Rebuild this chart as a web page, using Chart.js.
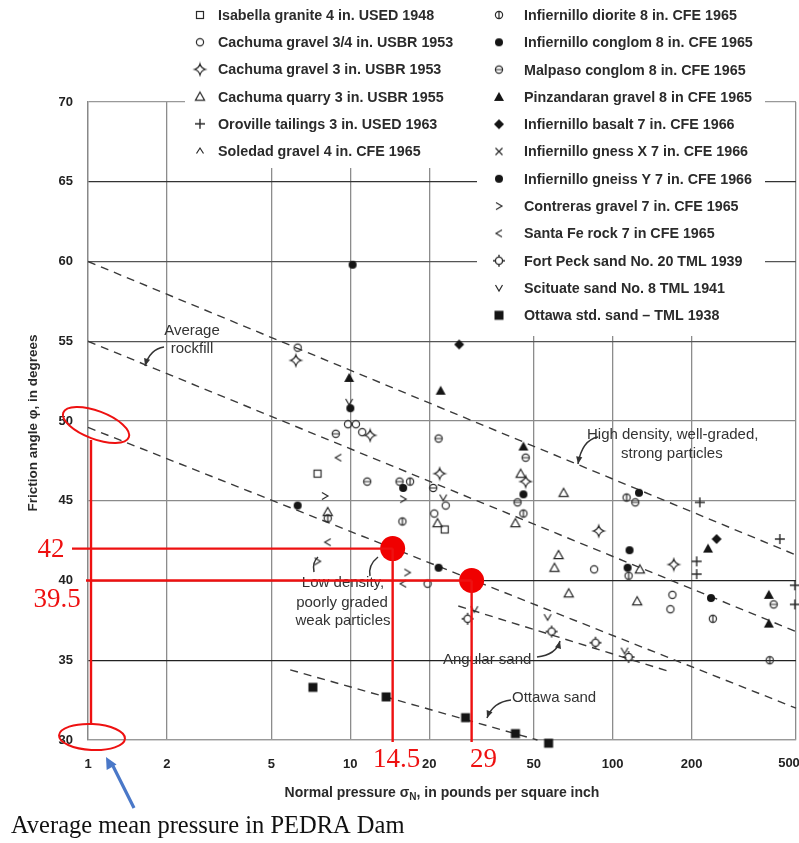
<!DOCTYPE html>
<html><head><meta charset="utf-8">
<script src="https://cdn.jsdelivr.net/npm/chart.js@4.4.1/dist/chart.umd.min.js"></script>
<style>html,body{margin:0;padding:0;background:#fff}#wrap{width:799px;height:843px;position:relative}</style>
</head><body><div id="wrap"><canvas id="c" width="799" height="843"></canvas></div>
<script>
// ---------- axis ticks ----------
const xTicks = [1, 2, 5, 10, 20, 50, 100, 200, 500];
const yTicks = [30, 35, 40, 45, 50, 55, 60, 65, 70];

// ---------- series names (legend) ----------
const seriesNames = [
  "Isabella granite 4 in. USED 1948",
  "Cachuma gravel 3/4 in. USBR 1953",
  "Cachuma gravel 3 in. USBR 1953",
  "Cachuma quarry 3 in. USBR 1955",
  "Oroville tailings 3 in. USED 1963",
  "Soledad gravel 4 in. CFE 1965",
  "Infiernillo diorite 8 in. CFE 1965",
  "Infiernillo conglom 8 in. CFE 1965",
  "Malpaso conglom 8 in. CFE 1965",
  "Pinzandaran gravel 8 in CFE 1965",
  "Infiernillo basalt 7 in. CFE 1966",
  "Infiernillo gness X 7 in. CFE 1966",
  "Infiernillo gneiss Y 7 in. CFE 1966",
  "Contreras gravel 7 in. CFE 1965",
  "Santa Fe rock 7 in CFE 1965",
  "Fort Peck sand No. 20 TML 1939",
  "Scituate sand No. 8 TML 1941",
  "Ottawa std. sand \u2013 TML 1938"
];

// ---------- series values [normal pressure psi, friction angle deg] ----------
const isabella   = [[7.5,46.7],[22.9,43.2]];
const cachuma34  = [[6.3,54.6],[9.8,49.8],[10.5,49.8],[11.1,49.3],[23.1,44.7],[20.9,44.2],[19.7,39.8],[85,40.7],[169,39.1],[166,38.2]];
const cachuma3   = [[6.2,53.8],[11.9,49.1],[21.9,46.7],[46.6,46.2],[88.5,43.1],[171,41.0]];
const cachumaQ   = [[8.2,44.3],[21.5,43.6],[44.6,46.7],[65,45.5],[42.6,43.6],[62.2,41.6],[60,40.8],[127,40.7],[68,39.2],[124,38.7]];
const oroville   = [[215,44.9],[434,42.6],[209,41.2],[209,40.4],[495,39.7],[495,38.5]];
const soledad    = [];
const diorite    = [[8.2,43.9],[15.8,43.7],[16.9,46.2],[45.7,44.2],[113,45.2],[115,40.3],[241,37.6],[397,35.0]];
const conglom    = [[10.2,59.8],[10,50.8],[6.3,44.7],[15.9,45.8],[21.7,40.8],[45.7,45.4]];
const malpaso    = [[8.8,49.2],[11.6,46.2],[15.4,46.2],[21.7,48.9],[20.7,45.8],[46.6,47.7],[43.4,44.9],[122,44.9],[411,38.5]];
const pinzandaran= [[9.9,52.7],[22.1,51.9],[45.7,48.4],[231,42.0],[394,39.1],[394,37.3]];
const basalt     = [[26,54.8],[249,42.6]];
const gnessX     = [];
const gneissY    = [[126,45.5],[116,41.9],[114,40.8],[237,38.9]];
const contreras  = [[8.0,45.3],[15.9,45.1],[7.5,41.2],[16.5,40.5]];
const santaFe    = [[9.0,47.7],[8.2,42.4],[15.9,39.8]];
const fortPeck   = [[28,37.6],[58.5,36.8],[86,36.1],[115,35.2]];
const scituate   = [[9.9,51.2],[22.6,45.2],[29.7,38.2],[56.5,37.7],[111,35.6]];
const ottawa     = [[7.2,33.3],[13.7,32.7],[27.5,31.4],[42.6,30.4],[57,29.8]];

// ---------- trend lines (end points) ----------
const lineHigh    = [[1,60],[500,41.6]];
const lineAverage = [[1,55],[500,36.8]];
const lineLow     = [[1,49.6],[500,32.0]];
const lineAngular = [[25.8,38.4],[164,34.3]];
const lineOttawa  = [[5.9,34.4],[51.7,30.0]];

// ---------- PEDRA Dam points ----------
const pedraX = [14.5, 29];
const pedraY = [42, 40];

const allSeries = [isabella,cachuma34,cachuma3,cachumaQ,oroville,soledad,diorite,conglom,malpaso,pinzandaran,basalt,gnessX,gneissY,contreras,santaFe,fortPeck,scituate,ottawa];
const markerKeys = ['sq','circ','star','tri','plus','caret','diorite','fcirc','malpaso','ftri','fdiam','x','fcirc','gt','lt','sun','v','fsq'];

function mk(fn){const c=document.createElement('canvas');c.width=16;c.height=16;const g=c.getContext('2d');g.translate(8,8);g.strokeStyle='#2a2a2a';g.fillStyle='#151515';g.lineWidth=1.2;fn(g);return c;}
const M = {
  sq: mk(g=>{g.strokeRect(-3.5,-3.5,7,7);}),
  circ: mk(g=>{g.beginPath();g.arc(0,0,3.6,0,7);g.stroke();}),
  star: mk(g=>{g.beginPath();g.moveTo(0,-5.5);g.quadraticCurveTo(1.2,-1.2,5.5,0);g.quadraticCurveTo(1.2,1.2,0,5.5);g.quadraticCurveTo(-1.2,1.2,-5.5,0);g.quadraticCurveTo(-1.2,-1.2,0,-5.5);g.closePath();g.stroke();}),
  tri: mk(g=>{g.beginPath();g.moveTo(0,-4.5);g.lineTo(4.6,3.6);g.lineTo(-4.6,3.6);g.closePath();g.stroke();}),
  plus: mk(g=>{g.lineWidth=1.4;g.beginPath();g.moveTo(-5,0);g.lineTo(5,0);g.moveTo(0,-5);g.lineTo(0,5);g.stroke();}),
  caret: mk(g=>{g.beginPath();g.moveTo(-3.5,2.5);g.lineTo(0,-3);g.lineTo(3.5,2.5);g.stroke();}),
  diorite: mk(g=>{g.beginPath();g.arc(0,0,3.6,0,7);g.moveTo(0,-3.6);g.lineTo(0,3.6);g.stroke();}),
  fcirc: mk(g=>{g.beginPath();g.arc(0,0,4,0,7);g.fill();}),
  malpaso: mk(g=>{g.beginPath();g.arc(0,0,3.6,0,7);g.moveTo(-3.6,0);g.lineTo(3.6,0);g.stroke();}),
  ftri: mk(g=>{g.beginPath();g.moveTo(0,-5);g.lineTo(5,4);g.lineTo(-5,4);g.closePath();g.fill();}),
  fdiam: mk(g=>{g.beginPath();g.moveTo(0,-5);g.lineTo(5,0);g.lineTo(0,5);g.lineTo(-5,0);g.closePath();g.fill();}),
  x: mk(g=>{g.beginPath();g.moveTo(-3.5,-3.5);g.lineTo(3.5,3.5);g.moveTo(3.5,-3.5);g.lineTo(-3.5,3.5);g.stroke();}),
  gt: mk(g=>{g.beginPath();g.moveTo(-3,-3.5);g.lineTo(3,0);g.lineTo(-3,3.5);g.stroke();}),
  lt: mk(g=>{g.beginPath();g.moveTo(3,-3.5);g.lineTo(-3,0);g.lineTo(3,3.5);g.stroke();}),
  v: mk(g=>{g.beginPath();g.moveTo(-3.5,-3);g.lineTo(0,3);g.lineTo(3.5,-3);g.stroke();}),
  sun: mk(g=>{g.lineWidth=1.4;g.beginPath();g.arc(0,0,3.6,0,7);g.moveTo(0,-3.6);g.lineTo(0,-6);g.moveTo(0,3.6);g.lineTo(0,6);g.moveTo(-3.6,0);g.lineTo(-6,0);g.moveTo(3.6,0);g.lineTo(6,0);g.stroke();}),
  fsq: mk(g=>{g.fillRect(-4.5,-4.5,9,9);})
};

const toXY = a => a.map(p=>({x:p[0],y:p[1]}));
const datasets = [];
datasets.push({label:'PEDRA', data:pedraX.map((x,i)=>({x,y:pedraY[i]})), pointStyle:'circle', pointRadius:12.5, backgroundColor:'#f00000', borderWidth:0, showLine:false, clip:false});
allSeries.forEach((d,i)=>datasets.push({label:seriesNames[i], data:toXY(d), pointStyle:M[markerKeys[i]], pointRadius:6, showLine:false, clip:false}));
[lineHigh,lineAverage,lineLow,lineAngular,lineOttawa].forEach(l=>datasets.push({label:'', data:toXY(l), showLine:true, pointRadius:0, borderColor:'#3a3a3a', borderWidth:1.4, borderDash:[8,6], fill:false, clip:false}));

const yGridColor = {30:'#9a9a9a',35:'#222',40:'#222',45:'#8a8a8a',50:'#8a8a8a',55:'#555',60:'#555',65:'#333',70:'#999'};

function arrow(ctx,x0,y0,cx,cy,x1,y1,head){
  ctx.beginPath();ctx.moveTo(x0,y0);ctx.quadraticCurveTo(cx,cy,x1,y1);ctx.stroke();
  if(head){const a=Math.atan2(y1-cy,x1-cx);ctx.beginPath();ctx.moveTo(x1,y1);
    ctx.lineTo(x1-8*Math.cos(a-0.4),y1-8*Math.sin(a-0.4));ctx.lineTo(x1-8*Math.cos(a+0.4),y1-8*Math.sin(a+0.4));ctx.closePath();ctx.fill();}
}

const SANS='"Liberation Sans", Arial, sans-serif';
const SERIF='"Liberation Serif", "Times New Roman", serif';
const lastX = xTicks[xTicks.length-1];

const overlay = {
  id:'overlay',
  beforeDatasetsDraw(chart){
    const ctx=chart.ctx;ctx.save();
    ctx.fillStyle='#fff';
    ctx.fillRect(185,0,292,168);
    ctx.fillRect(477,0,288,336);
    ctx.font='bold 14.3px '+SANS;ctx.fillStyle='#2b2b2b';ctx.textBaseline='middle';ctx.textAlign='left';
    seriesNames.forEach((name,i)=>{
      let mx,tx,y;
      if(i<6){mx=200;tx=218;y=15+i*27.2;}else{mx=499;tx=524;y=15+(i-6)*27.3;}
      const m=M[markerKeys[i]];
      ctx.drawImage(m,mx-m.width/2,y-m.height/2);
      ctx.fillText(name,tx,y+1);
    });
    // last x tick label (partly cut at the right edge like the original)
    ctx.font='bold 13px '+SANS;ctx.fillStyle='#222';ctx.textAlign='center';
    ctx.fillText(String(lastX),chart.scales.x.getPixelForValue(lastX)-7,763);
    // annotation texts
    ctx.font='15px '+SANS;ctx.fillStyle='#333';
    ctx.textAlign='center';
    ctx.fillText('Average',192,331);ctx.fillText('rockfill',192,349);
    ctx.fillText('Low density,',343,583);ctx.fillText('poorly graded',342,603);ctx.fillText('weak particles',343,621);
    ctx.textAlign='left';
    ctx.fillText('High density, well-graded,',587,435);ctx.fillText('strong particles',621,454);
    ctx.fillText('Angular sand',443,660);
    ctx.fillText('Ottawa sand',512,698);
    ctx.strokeStyle='#333';ctx.fillStyle='#333';ctx.lineWidth=1.5;
    arrow(ctx,164,347,150,349,145,366,true);
    arrow(ctx,598,437,582,440,578,464,true);
    arrow(ctx,537,657,556,655,560,641,true);
    arrow(ctx,511,700,493,702,487,718,true);
    arrow(ctx,318,557,312,562,314,572,false);
    arrow(ctx,378,557,368,565,370,576,false);
    ctx.restore();
  },
  afterDatasetsDraw(chart){
    const ctx=chart.ctx, xs=chart.scales.x, ys=chart.scales.y;ctx.save();
    const red='#ee1111';
    ctx.strokeStyle=red;ctx.lineWidth=2.4;
    const p1x=xs.getPixelForValue(pedraX[0]), p1y=ys.getPixelForValue(pedraY[0]);
    const p2x=xs.getPixelForValue(pedraX[1]), p2y=ys.getPixelForValue(pedraY[1]);
    ctx.beginPath();
    ctx.moveTo(72,p1y);ctx.lineTo(p1x,p1y);
    ctx.moveTo(p1x,p1y);ctx.lineTo(p1x,742);
    ctx.moveTo(86,p2y);ctx.lineTo(p2x,p2y);
    ctx.moveTo(p2x,p2y);ctx.lineTo(p2x,742);
    ctx.moveTo(91,440);ctx.lineTo(91,723);
    ctx.stroke();
    ctx.lineWidth=2;
    ctx.beginPath();ctx.ellipse(96,425,35,14,0.36,0,Math.PI*2);ctx.stroke();
    ctx.beginPath();ctx.ellipse(92,737,33,13,0.05,0,Math.PI*2);ctx.stroke();
    ctx.fillStyle=red;ctx.font='27px '+SERIF;ctx.textAlign='center';ctx.textBaseline='middle';
    ctx.fillText('42',51,p1y+1);
    ctx.fillText('39.5',57,600);
    ctx.fillText(String(pedraX[0]),p1x+4,760);
    ctx.fillText(String(pedraX[1]),p2x+12,760);
    // blue arrow
    ctx.strokeStyle='#4a78c8';ctx.fillStyle='#4a78c8';ctx.lineWidth=3.2;
    ctx.beginPath();ctx.moveTo(134,808);ctx.lineTo(113,766);ctx.stroke();
    const a=Math.atan2(757-808,106-134);
    ctx.beginPath();ctx.moveTo(106,757);ctx.lineTo(106-13*Math.cos(a-0.45),757-13*Math.sin(a-0.45));ctx.lineTo(106-13*Math.cos(a+0.45),757-13*Math.sin(a+0.45));ctx.closePath();ctx.fill();
    // note
    ctx.fillStyle='#111';ctx.font='24.5px '+SERIF;ctx.textAlign='left';ctx.textBaseline='middle';
    ctx.fillText('Average mean pressure in PEDRA Dam',11,827);
    // axis titles
    ctx.fillStyle='#2a2a2a';ctx.font='bold 14px '+SANS;
    const t1='Normal pressure \u03C3',t2='N',t3=', in pounds per square inch';
    const w1=ctx.measureText(t1).width, w3=ctx.measureText(t3).width;
    ctx.font='bold 10px '+SANS;const w2=ctx.measureText(t2).width;
    let sx=442-(w1+w2+w3)/2;
    ctx.font='bold 14px '+SANS;ctx.fillText(t1,sx,793);
    ctx.font='bold 10px '+SANS;ctx.fillText(t2,sx+w1,797);
    ctx.font='bold 14px '+SANS;ctx.fillText(t3,sx+w1+w2,793);
    ctx.save();ctx.translate(33,423);ctx.rotate(-Math.PI/2);ctx.textAlign='center';ctx.font='bold 13.5px '+SANS;
    ctx.fillText('Friction angle \u03C6, in degrees',0,0);ctx.restore();
    ctx.restore();
  }
};

new Chart(document.getElementById('c'),{
  type:'scatter',
  data:{datasets},
  options:{
    responsive:false,animation:false,devicePixelRatio:1,events:[],
    layout:{autoPadding:false,padding:{top:102,right:3,bottom:0,left:0}},
    plugins:{legend:{display:false},tooltip:{enabled:false},title:{display:false}},
    scales:{
      x:{type:'logarithmic',min:1,max:500,
        afterBuildTicks:s=>{s.ticks=xTicks.map(v=>({value:v}));},
        afterFit:s=>{s.height=103;s.paddingLeft=0;s.paddingRight=0;},
        grid:{color:'#8c8c8c',lineWidth:1.3,drawTicks:false},
        border:{display:true,color:'#999',width:1.3},
        ticks:{padding:17,autoSkip:false,maxRotation:0,color:'#222',font:{family:SANS,weight:'bold',size:13},callback:v=>(v===lastX?'':String(v))}},
      y:{type:'linear',min:30,max:70,
        afterBuildTicks:s=>{s.ticks=yTicks.map(v=>({value:v}));},
        afterFit:s=>{s.width=88;s.paddingTop=0;s.paddingBottom=0;},
        grid:{color:c=>yGridColor[c.tick.value]||'#888',lineWidth:1.3,drawTicks:false},
        border:{display:true,color:'#888',width:1.3},
        ticks:{padding:15,color:'#222',font:{family:SANS,weight:'bold',size:13},callback:v=>String(v)}}
    }
  },
  plugins:[overlay]
});
</script></body></html>
